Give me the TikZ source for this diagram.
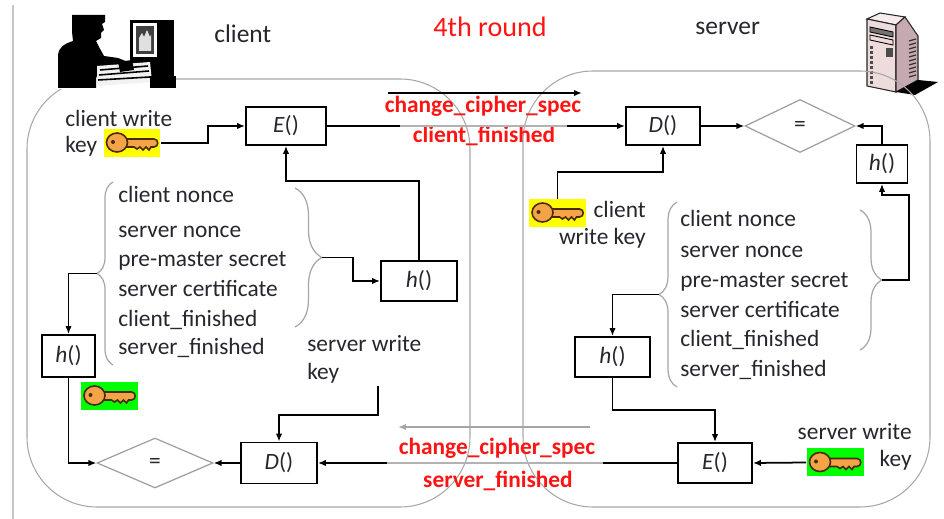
\documentclass[tikz,border=0pt]{standalone}
\usepackage{fontspec}
\setmainfont{Carlito}
\usetikzlibrary{arrows.meta,shapes.geometric,decorations.pathreplacing}
\definecolor{txt}{HTML}{26262E}
\definecolor{lbl}{HTML}{FF1414}
\definecolor{keyfill}{HTML}{F4A347}
\definecolor{keyline}{HTML}{4A2A0E}
\definecolor{hlyellow}{HTML}{FFFF00}
\definecolor{hlgreen}{HTML}{00FF00}
\definecolor{regionline}{HTML}{A8A8A8}
\definecolor{towerfront}{HTML}{EEDBDB}
\definecolor{towertop}{HTML}{F6ECEC}
\definecolor{towerside}{HTML}{C7A9B0}

\begin{document}
\begin{tikzpicture}[x=0.02cm,y=-0.02cm,
  body/.style={font=\fontsize{13.3}{16}\selectfont, text=txt, inner sep=0},
  title/.style={font=\fontsize{14.5}{17}\selectfont, text=txt, inner sep=0},
  fnbox/.style={draw=black, line width=1pt, fill=white, font=\fontsize{13.3}{16}\selectfont, text=txt, inner sep=0},
  cmp/.style={diamond, draw=gray!75, line width=0.7pt, inner sep=0, font=\fontsize{13.3}{16}\selectfont, text=txt},
  keybox/.style={minimum width=1.14cm, minimum height=0.56cm, inner sep=0},
  conn/.style={line width=1pt, -{Latex[length=4.5pt,width=3.6pt]}},
  wire/.style={line width=1pt},
  fadewire/.style={line width=0.8pt, draw=gray!60},
  msg/.style={font=\bfseries\fontsize{13.3}{16}\selectfont, text=lbl, inner sep=0},
  curly/.style={draw=gray!70, line width=0.7pt, decorate, decoration={brace, amplitude=#1}},
  region/.style={draw=regionline, line width=0.6pt, rounded corners=1.4cm},
  keyshape/.pic={
    \filldraw[fill=keyfill, draw=keyline, line width=0.9pt]
      (-8,-4) -- (22,-4) .. controls (27,-4) and (27,4) .. (22,4) -- (19,4) -- (17,7)
      -- (14,4) -- (11,7) -- (8,4) -- (5,6) -- (2,4) -- (-8,4) -- cycle;
    \filldraw[fill=keyfill, draw=keyline, line width=0.9pt] (-15,-0.5) ellipse [x radius=10.5, y radius=9.5];
    \fill[keyline] (-19,-1) circle [radius=2];
  },
]
\useasboundingbox (0,0) rectangle (944,519);
\fill[white] (0,0) rectangle (944,519);

% page edge
\draw[gray!45, line width=0.6pt] (13,5) -- (13,519);

% server tower
\filldraw[fill=towertop, draw=black!85, line width=0.6pt] (867,19) -- (880,13) -- (905,17) -- (896,25) -- cycle;
\filldraw[fill=towerfront, draw=black!85, line width=0.6pt] (867,19) -- (896,25) -- (896,92) -- (867,86) -- cycle;
\filldraw[fill=towerside, draw=black!85, line width=0.6pt] (896,25) -- (905,17) -- (918,36) -- (918,80) -- (896,92) -- cycle;
\fill[black] (896,92) -- (918,80) -- (938,82) -- (915,95) -- cycle;
\filldraw[fill=black!55, draw=black, line width=0.5pt] (870,27) -- (893,32) -- (893,37) -- (870,32) -- cycle;
\filldraw[fill=towerfront, draw=black, line width=0.5pt] (870,35) -- (893,40) -- (893,45) -- (870,40) -- cycle;
\fill[black!70] (886,48) rectangle (893,57);
\foreach \yy in {46,51,...,81} \fill[black!70] (870,\yy) rectangle (873,\yy+3);
\foreach \yy in {40,44,...,76} \draw[black!80, line width=0.7pt] (909,\yy+1) -- (916,\yy-1);

% client and server areas
\draw[region] (27,79) rectangle (470,507);
\draw[region] (523,71) rectangle (930,507);

% person at a computer
\fill[white] (57,14) rectangle (176,89);
\fill[black] (58,88) -- (58,55) .. controls (59,47) and (64,44) .. (73,41) -- (72,32) -- (72,15)
  -- (105,15) -- (105,22) -- (102,24) -- (104,30) -- (101,33) -- (101,38) -- (96,41) -- (99,47)
  -- (104,56) -- (118,58) -- (128,62) -- (131,67) -- (112,67) -- (100,71) -- (96,78) -- (96,88) -- cycle;
\fill[black] (130,20) rectangle (174,80);
\fill[white] (133,23) rectangle (157,57);
\fill[black!75] (136,26) rectangle (154,54);
\fill[gray!25] (139,51) -- (139,38) -- (142,33) -- (144,37) -- (147,30) -- (150,37) -- (151,35) -- (151,51) -- cycle;
\fill[gray!10] (97,66) -- (150,62) -- (152,82) -- (97,86) -- cycle;
\draw[black, line width=0.9pt] (100,70) -- (148,66) (99,75) -- (149,71) (98,80) -- (150,77);
\fill[black] (118,62) -- (132,60) -- (134,70) -- (120,72) -- cycle;
\fill[black] (150,76) rectangle (176,88);

% titles
\node[title, anchor=base west] (ttlc) at (214,43) {client};
\node[font=\fontsize{16}{19}\selectfont, text=lbl, inner sep=0, anchor=base] (ttlr) at (490,37) {4th round};
\node[title, anchor=base west] (ttls) at (695,35) {server};

% function boxes and comparisons
\node[fnbox, minimum width=1.6cm, minimum height=0.76cm] (cE) at (286,126) {\textit{E}()};
\node[fnbox, minimum width=1.48cm, minimum height=0.76cm] (sD) at (663,126) {\textit{D}()};
\node[cmp, minimum width=2.2cm, minimum height=1.06cm] (seq) at (800,126) {=};
\node[fnbox, minimum width=1.02cm, minimum height=0.76cm] (sh1) at (882,164) {\textit{h}()};
\node[fnbox, minimum width=1.52cm, minimum height=0.8cm] (ch1) at (419,281) {\textit{h}()};
\node[fnbox, minimum width=1.06cm, minimum height=0.84cm] (ch2) at (68.5,356) {\textit{h}()};
\node[cmp, minimum width=2.32cm, minimum height=1.0cm] (ceq) at (155,463) {=};
\node[fnbox, minimum width=1.52cm, minimum height=0.82cm] (cD) at (279,463) {\textit{D}()};
\node[fnbox, minimum width=1.5cm, minimum height=0.8cm] (sh2) at (612.5,357) {\textit{h}()};
\node[fnbox, minimum width=1.48cm, minimum height=0.8cm] (sE) at (715,463) {\textit{E}()};

% keys
\node[keybox, fill=hlyellow] (ckey) at (132,143) {};
\pic at (ckey.center) {keyshape};
\node[keybox, fill=hlgreen] (ckey2) at (109.5,396) {};
\pic at (ckey2.center) {keyshape};
\node[keybox, fill=hlyellow] (skey) at (557.5,213) {};
\pic at (skey.center) {keyshape};
\node[keybox, fill=hlgreen] (sskey) at (835,462.5) {};
\pic at (sskey.center) {keyshape};

% key captions
\node[body, anchor=base west] (cwk1) at (65,127) {client write};
\node[body, anchor=base west] (cwk2) at (65,153) {key};
\node[body, anchor=base west] (cswk1) at (307,352) {server write};
\node[body, anchor=base west] (cswk2) at (307,380) {key};
\node[body, anchor=base east] (scwk1) at (646,218) {client};
\node[body, anchor=base east] (scwk2) at (646,245) {write key};
\node[body, anchor=base east] (sswk1) at (912,440) {server write};
\node[body, anchor=base east] (sswk2) at (912,467) {key};

% hash inputs, client side
\node[body, anchor=base west] (cl1) at (118,203) {client nonce};
\node[body, anchor=base west] (cl2) at (118,238) {server nonce};
\node[body, anchor=base west] (cl3) at (118,267) {pre-master secret};
\node[body, anchor=base west] (cl4) at (118,297) {server certificate};
\node[body, anchor=base west] (cl5) at (118,327) {client\_finished};
\node[body, anchor=base west] (cl6) at (118,355) {server\_finished};

% hash inputs, server side
\node[body, anchor=base west] (sl1) at (680,227) {client nonce};
\node[body, anchor=base west] (sl2) at (680,258) {server nonce};
\node[body, anchor=base west] (sl3) at (680,288) {pre-master secret};
\node[body, anchor=base west] (sl4) at (680,318) {server certificate};
\node[body, anchor=base west] (sl5) at (680,347) {client\_finished};
\node[body, anchor=base west] (sl6) at (680,377) {server\_finished};

% braces
\draw[curly=0.32cm] (113,365) -- (113,182);
\draw[curly=0.54cm] (295,188) -- (295,327);
\draw[curly=0.36cm] (677,387) -- (677,202);
\draw[curly=0.44cm] (860,210) -- (860,350);
\coordinate (cbl) at (97,273.5);
\coordinate (cbr) at (322,257.5);
\coordinate (sbl) at (659,294.5);
\coordinate (sbr) at (882,280);

% messages on the wire
\node[msg, anchor=base] (m1) at (483,113) {change\_cipher\_spec};
\node[msg, anchor=base] (m2) at (484,143) {client\_finished};
\node[msg, anchor=base] (m3) at (497,455) {change\_cipher\_spec};
\node[msg, anchor=base] (m4) at (498,488) {server\_finished};

% client to server
\coordinate (ta) at (388,93);
\coordinate (tb) at (582,93);
\draw[conn] (ta) -- (tb);
\coordinate (t1) at (400,126);
\coordinate (t2) at (567,126);
\draw[wire] (cE.east) -- (t1);
\draw[fadewire] (t1) -- (t2);
\draw[conn] (t2) -- (sD.west);

% server to client
\coordinate (ba) at (590,427);
\coordinate (bb) at (398,427);
\draw[conn, draw=gray!70, line width=0.8pt] (ba) -- (bb);
\coordinate (b1) at (603,463);
\coordinate (b2) at (387,463);
\draw[wire] (sE.west) -- (b1);
\draw[fadewire] (b1) -- (b2);
\draw[conn] (b2) -- (cD.east);

% client side connectors
\draw[conn] (ckey.east) -- ++(47,0) |- (cE.west);
\draw[conn] (ch1.north) -- ++(0,-79) -| (cE.south);
\draw[conn] (cbr) -- (353,257.5) |- (ch1.west);
\draw[conn] (cbl) -| (ch2.north);
\draw[conn] (ch2.south) |- (ceq.west);
\draw[conn] (cD.west) -- (ceq.east);
\coordinate (cswk) at (378,386);
\draw[conn] (cswk) -- (378,415) -| (cD.north);

% server side connectors
\draw[conn] (sD.east) -- (seq.west);
\draw[conn] (sh1.north) |- (seq.east);
\draw[conn] (sbr) -- (909,280) -- (909,195) -| (sh1.south);
\draw[conn] (skey.north) -- ++(0,-27) -| (sD.south);
\draw[conn] (sbl) -| (sh2.north);
\draw[conn] (sh2.south) -- ++(0,32) -| (sE.north);
\draw[conn] (sskey.west) -- (sE.east);
\end{tikzpicture}
\end{document}
